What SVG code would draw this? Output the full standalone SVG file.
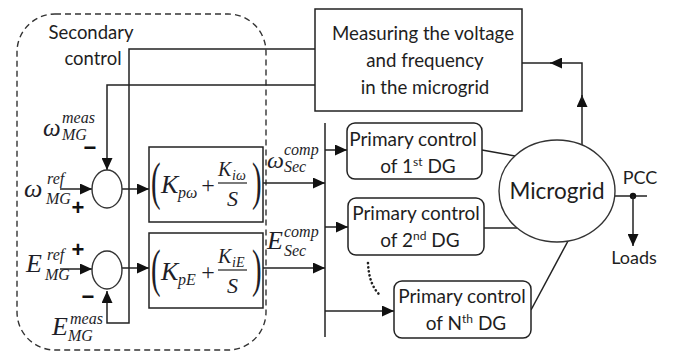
<svg xmlns="http://www.w3.org/2000/svg" width="689" height="353" viewBox="0 0 689 353">
<defs>
<marker id="ar" markerUnits="userSpaceOnUse" markerWidth="13" markerHeight="11" refX="12" refY="5.5" orient="auto">
<path d="M0,0 L12,5.5 L0,11 z" fill="#111"/>
</marker>
<style>
.ln{fill:none;stroke:#222;stroke-width:1.5}
.bx{fill:#fff;stroke:#222;stroke-width:1.5}
.t{font-family:Lato,"Liberation Sans",sans-serif;fill:#1e1e1e}
.m{font-family:"Liberation Serif",serif;font-style:italic;fill:#1e1e28}
.r{font-family:"Liberation Serif",serif;fill:#1e1e28}
.pm{font-family:"Liberation Sans",sans-serif;font-weight:bold;fill:#111;font-size:22px;text-anchor:middle}
</style>
</defs>
<rect width="689" height="353" fill="#fff"/>

<g id="secondary-frame">
<rect x="17" y="14" width="249" height="336" rx="38" ry="38" fill="none" stroke="#333" stroke-width="1.4" stroke-dasharray="6 4"/>
<text class="t" x="91" y="39" font-size="18.5" text-anchor="middle">Secondary</text>
<text class="t" x="93" y="65" font-size="18.5" text-anchor="middle">control</text>
</g>

<g id="connectors">
<path class="ln" d="M315,49 H129 V323 H107 V291" marker-end="url(#ar)"/>
<path class="ln" d="M315,85 H107 V170" marker-end="url(#ar)"/>
<path class="ln" d="M60,189 H92" marker-end="url(#ar)"/>
<path class="ln" d="M122,189 H149" marker-end="url(#ar)"/>
<path class="ln" d="M60,269 H92" marker-end="url(#ar)"/>
<path class="ln" d="M122,268 H149" marker-end="url(#ar)"/>
<path class="ln" d="M263,183 H325" marker-end="url(#ar)"/>
<path class="ln" d="M263,268 H325" marker-end="url(#ar)"/>
<path class="ln" d="M325,123 V337"/>
<path class="ln" d="M325,150 H347" marker-end="url(#ar)"/>
<path class="ln" d="M325,227 H348" marker-end="url(#ar)"/>
<path class="ln" d="M325,311 H394" marker-end="url(#ar)"/>
<path class="ln" d="M482,150 L515,156"/>
<path class="ln" d="M484,228 L517,228"/>
<path class="ln" d="M531,310 L568,241"/>
<path class="ln" d="M582,145 V95" marker-end="url(#ar)"/>
<path class="ln" d="M582,100 V63 H550" marker-end="url(#ar)"/>
<path class="ln" d="M552,63 H522"/>
<path class="ln" d="M615,196 H647"/>
<circle cx="633" cy="196" r="3.2" fill="#111"/>
<path class="ln" d="M633,196 V246" marker-end="url(#ar)"/>
<path d="M368,263 Q369,286 381,296" fill="none" stroke="#222" stroke-width="2.6" stroke-linecap="round" stroke-dasharray="0.1 4"/>
</g>

<g id="measuring">
<rect class="bx" x="315" y="9" width="207" height="102"/>
<text class="t" x="423" y="40" font-size="18.7" text-anchor="middle">Measuring the voltage</text>
<text class="t" x="425" y="67" font-size="18.7" text-anchor="middle">and frequency</text>
<text class="t" x="425" y="94" font-size="18.7" text-anchor="middle">in the microgrid</text>
</g>

<g id="sum-omega">
<ellipse cx="107" cy="189" rx="15" ry="19" fill="#fff" stroke="#333" stroke-width="1.4"/>
<text class="pm" x="90" y="155">−</text>
<text class="pm" x="78" y="215">+</text>
<text class="m" x="43" y="136" font-size="25">ω</text>
<text class="m" x="62" y="123" font-size="16">meas</text>
<text class="m" x="62" y="140" font-size="16">MG</text>
<text class="m" x="24" y="197" font-size="26">ω</text>
<text class="m" x="47" y="184" font-size="16">ref</text>
<text class="m" x="46" y="204" font-size="16">MG</text>
</g>

<g id="sum-e">
<ellipse cx="107" cy="270" rx="15" ry="19" fill="#fff" stroke="#333" stroke-width="1.4"/>
<text class="pm" x="78" y="257">+</text>
<text class="pm" x="88" y="304">−</text>
<text class="m" x="26" y="272" font-size="26">E</text>
<text class="m" x="47" y="260" font-size="16">ref</text>
<text class="m" x="45" y="280" font-size="16">MG</text>
<text class="m" x="52" y="335" font-size="26">E</text>
<text class="m" x="70" y="324" font-size="16">meas</text>
<text class="m" x="68" y="341" font-size="16">MG</text>
</g>

<g id="pi-omega">
<rect class="bx" x="149" y="147" width="114" height="75"/>
<text class="r" transform="translate(151,199) scale(0.8,1.45)" font-size="36">(</text>
<text class="m" x="161" y="193" font-size="26">K</text>
<text class="m" x="178" y="198" font-size="16">pω</text>
<text class="r" x="208" y="193" font-size="24" text-anchor="middle">+</text>
<text class="m" x="218" y="176" font-size="20">K</text>
<text class="m" x="232" y="180" font-size="14">iω</text>
<line x1="218" y1="183" x2="247" y2="183" stroke="#222" stroke-width="1.2"/>
<text class="m" x="227" y="206" font-size="22">S</text>
<text class="r" transform="translate(252,199) scale(0.8,1.45)" font-size="36">)</text>
<text class="m" x="267" y="168" font-size="24">ω</text>
<text class="m" x="284" y="155" font-size="16">comp</text>
<text class="m" x="284" y="172" font-size="16">Sec</text>
</g>

<g id="pi-e">
<rect class="bx" x="149" y="233" width="114" height="75"/>
<text class="r" transform="translate(151,286) scale(0.8,1.45)" font-size="36">(</text>
<text class="m" x="161" y="280" font-size="26">K</text>
<text class="m" x="178" y="285" font-size="16">pE</text>
<text class="r" x="208" y="280" font-size="24" text-anchor="middle">+</text>
<text class="m" x="218" y="263" font-size="20">K</text>
<text class="m" x="232" y="267" font-size="14">iE</text>
<line x1="218" y1="270" x2="247" y2="270" stroke="#222" stroke-width="1.2"/>
<text class="m" x="227" y="293" font-size="22">S</text>
<text class="r" transform="translate(252,286) scale(0.8,1.45)" font-size="36">)</text>
<text class="m" x="267" y="249" font-size="26">E</text>
<text class="m" x="284" y="237" font-size="16">comp</text>
<text class="m" x="284" y="256" font-size="16">Sec</text>
</g>

<g id="primary-1">
<rect class="bx" x="347" y="123" width="135" height="56" rx="8"/>
<text class="t" x="413" y="146" font-size="19" text-anchor="middle">Primary control</text>
<text class="t" x="418" y="173" font-size="19" text-anchor="middle">of 1<tspan font-size="12" dy="-7">st</tspan><tspan dy="7"> DG</tspan></text>
</g>

<g id="primary-2">
<rect class="bx" x="348" y="198" width="136" height="57" rx="8"/>
<text class="t" x="416" y="220" font-size="19" text-anchor="middle">Primary control</text>
<text class="t" x="420" y="247" font-size="19" text-anchor="middle">of 2<tspan font-size="12" dy="-7">nd</tspan><tspan dy="7"> DG</tspan></text>
</g>

<g id="primary-n">
<rect class="bx" x="394" y="281" width="137" height="57" rx="8"/>
<text class="t" x="462" y="303" font-size="19" text-anchor="middle">Primary control</text>
<text class="t" x="466" y="330" font-size="19" text-anchor="middle">of N<tspan font-size="12" dy="-7">th</tspan><tspan dy="7"> DG</tspan></text>
</g>

<g id="microgrid">
<ellipse cx="557" cy="191" rx="58" ry="51" fill="#fff" stroke="#333" stroke-width="1.4"/>
<text class="t" x="557" y="199" font-size="22.5" text-anchor="middle">Microgrid</text>
</g>

<g id="pcc">
<text class="t" x="640" y="184" font-size="18" text-anchor="middle">PCC</text>
</g>

<g id="loads">
<text class="t" x="634" y="264" font-size="18" text-anchor="middle">Loads</text>
</g>
</svg>
